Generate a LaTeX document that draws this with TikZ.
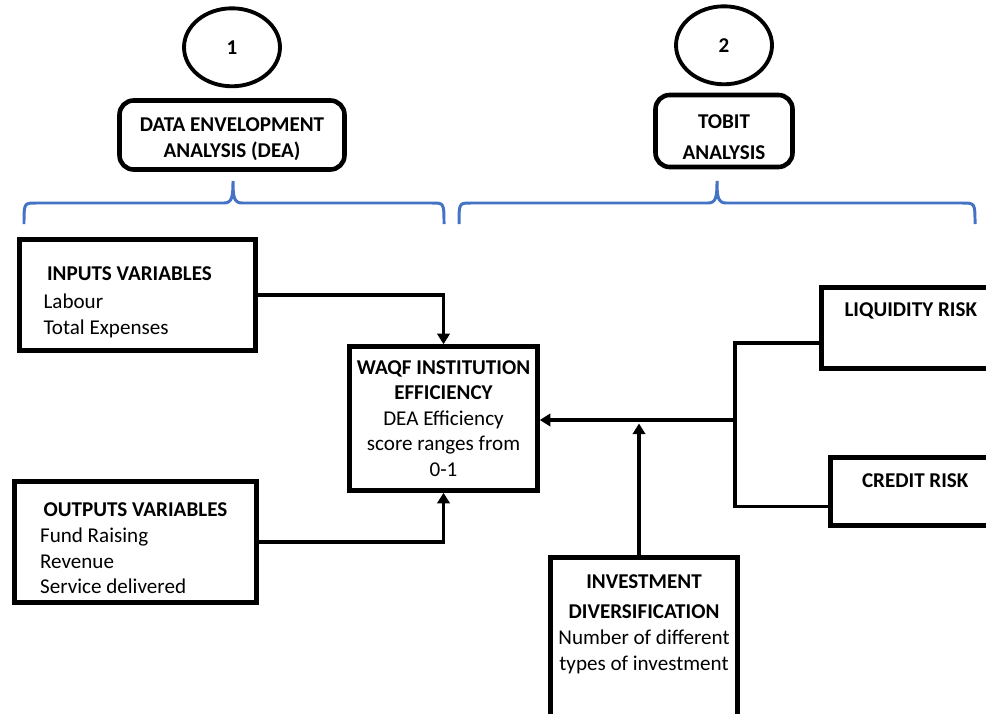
\documentclass[tikz,border=0pt]{standalone}
\usepackage{fontspec}
\setmainfont{Carlito}
\usepackage{tikz}
\usetikzlibrary{positioning, shapes.geometric, arrows.meta}

\definecolor{braceblue}{HTML}{4472C4}
\tikzset{
  box/.style={draw, line width=2.6pt, inner sep=0pt, align=center},
  head/.style={font=\fontsize{12}{14.6}\selectfont\bfseries, align=center},
  tag/.style={draw, ellipse, line width=2.2pt, minimum width=1.92cm, minimum height=1.56cm, head},
  link/.style={line width=2.2pt},
  arr/.style={link, -{Triangle[width=7pt,length=6pt]}},
  brace/.style={draw=braceblue, line width=1.7pt},
}

\begin{document}
\begin{tikzpicture}[x=0.02cm, y=-0.02cm, font=\fontsize{12}{14.6}\selectfont]
    \useasboundingbox (0,0) rectangle (986,713);

    % Add the two methods
    \node[box, rounded corners=8pt, minimum width=4.5cm, minimum height=1.38cm] (dea) at (232,135) {};
    \node[head] (deatxt) at ([yshift=-0.08cm]dea.center) {DATA ENVELOPMENT\\ANALYSIS (DEA)};
    \node[box, rounded corners=8pt, minimum width=2.74cm, minimum height=1.44cm] (tobit) at (724,131) {};
    \node[head] (tobittxt) at ([yshift=-0.13cm]tobit.center) {TOBIT\\[3pt]ANALYSIS};
    \node[tag, above=0.2cm of dea]   (n1) {1};
    \node[tag, above=0.13cm of tobit] (n2) {2};

    % Braces
    \draw[brace] (24,224) .. controls (24,203) .. (36,203) -- (224,203)
        .. controls (232,203) and (233,197) .. (233,181)
        .. controls (233,197) and (234,203) .. (242,203) -- (432,203)
        .. controls (444,203) .. (444,224);
    \draw[brace] (459,224) .. controls (459,203) .. (471,203) -- (708,203)
        .. controls (716,203) and (717,197) .. (717,181)
        .. controls (717,197) and (718,203) .. (726,203) -- (962,203)
        .. controls (975,203) .. (975,224);

    % Add the variables
    \node[box, minimum width=4.72cm, minimum height=2.22cm] (inp) at (137.5,295) {};
    \node[anchor=west, align=left, inner sep=0pt] (inptxt) at ([xshift=0.52cm, yshift=-0.14cm]inp.west)
        {\hspace*{2pt}\textbf{INPUTS VARIABLES}\\[1.5pt]Labour\\Total Expenses};
    \node[box, minimum width=4.84cm, minimum height=2.42cm] (out) at (135.5,542) {};
    \node[anchor=west, align=left, inner sep=0pt] (outtxt) at ([xshift=0.55cm, yshift=-0.13cm]out.west)
        {\hspace*{2pt}\textbf{OUTPUTS VARIABLES}\\Fund Raising\\Revenue\\Service delivered};
    \node[box, minimum width=3.76cm, minimum height=2.88cm] (eff) at (443.5,418.5)
        {\textbf{WAQF INSTITUTION}\\\textbf{EFFICIENCY}\\DEA Efficiency\\score ranges from\\0-1};

    % Add the risks
    \node[box, minimum width=3.57cm, minimum height=1.62cm] (liq) at (910.75,328) {};
    \node[head] (liqtxt) at ([yshift=-0.52cm]liq.north) {LIQUIDITY RISK};
    \node[box, minimum width=3.39cm, minimum height=1.36cm] (cred) at (915.25,491.5) {};
    \node[head] (credtxt) at ([yshift=-0.51cm]cred.north) {CREDIT RISK};
    \node[box, minimum width=3.74cm, minimum height=3.45cm] (inv) at (644,643.75) {};
    \node[align=center, inner sep=0pt] (invtxt) at ([yshift=-1.38cm]inv.north)
        {\textbf{INVESTMENT}\\[2.4pt]\textbf{DIVERSIFICATION}\\Number of different\\types of investment};

    % Connectors
    \coordinate (bus) at (735,420);
    \draw[arr] (inp.east) -| (eff.north);
    \draw[arr] (out.east) -| (eff.south);
    \draw[link] ([yshift=-0.3cm]liq.west) -| (bus) |- ([yshift=-0.3cm]cred.west);
    \draw[arr] (bus) -- (eff.east |- bus);
    \draw[arr, shorten >=2pt] ([xshift=-0.1cm]inv.north) -- ([xshift=-0.1cm]inv.north |- bus);
\end{tikzpicture}
\end{document}
